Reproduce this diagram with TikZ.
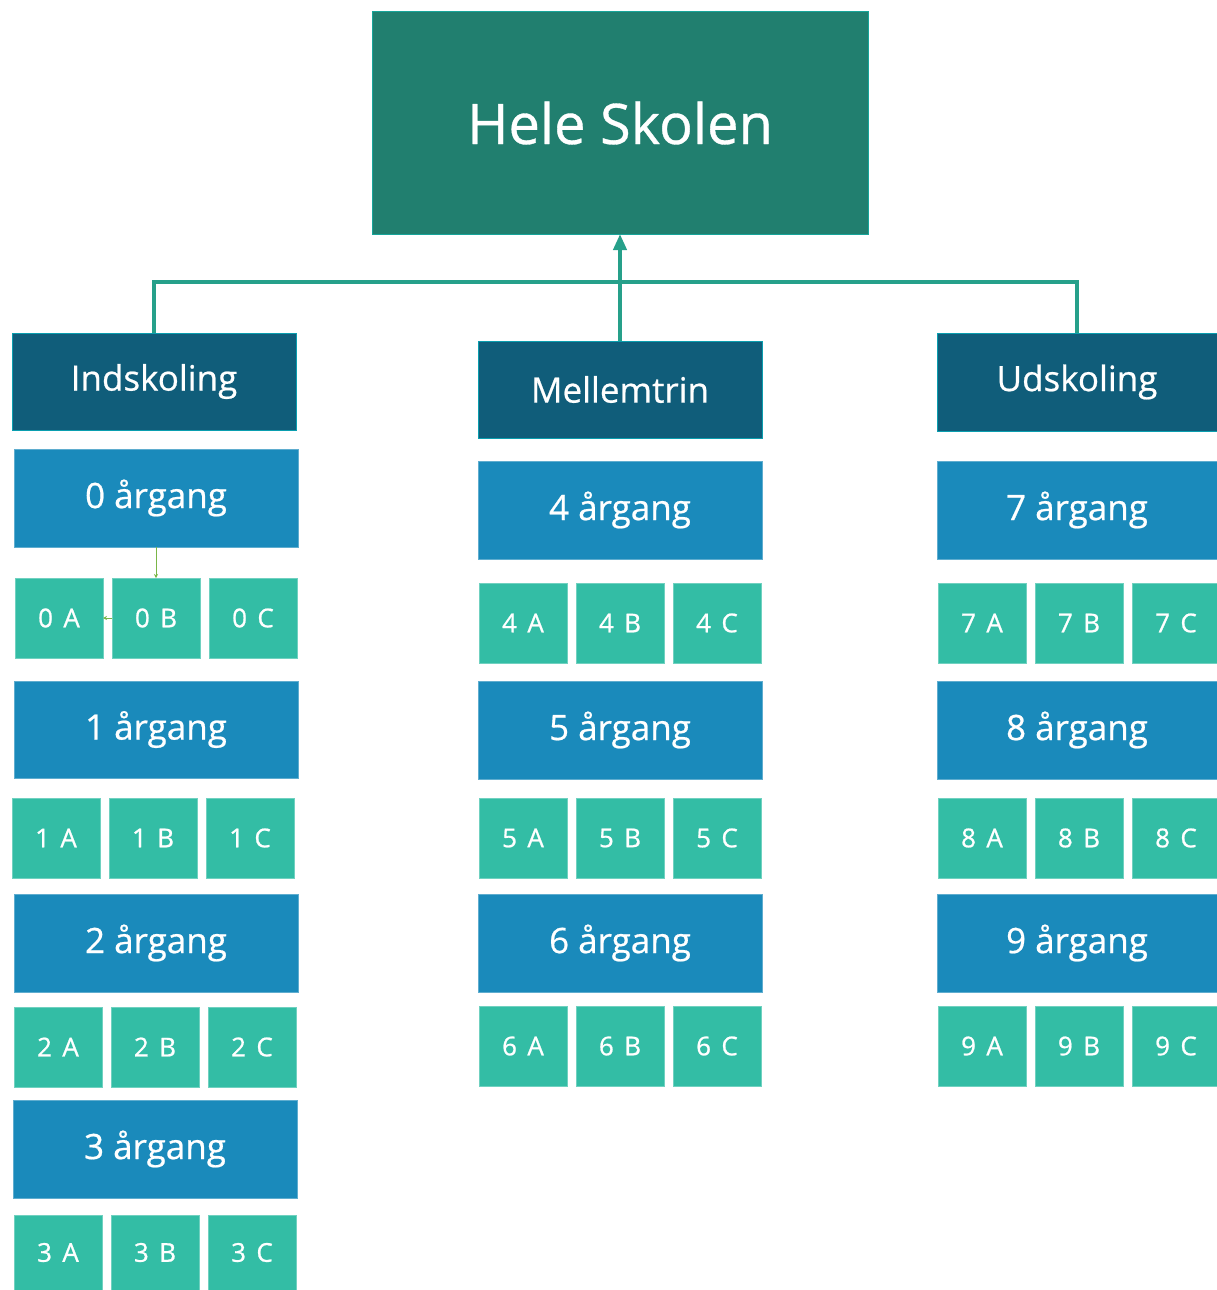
\documentclass[tikz,border=0pt]{standalone}
\usepackage{fontspec}
\setmainfont{Open Sans}[FakeBold=0.6]
\newfontfamily\clsfont{Open Sans}[LetterSpace=14,FakeBold=0.8]
\usetikzlibrary{arrows.meta}
\definecolor{topc}{HTML}{217F6F}
\definecolor{stagec}{HTML}{105D7A}
\definecolor{gradec}{HTML}{1A8ABB}
\definecolor{clsc}{HTML}{33BDA5}
\definecolor{connc}{HTML}{26A08A}
\definecolor{smallc}{HTML}{7AB648}
\tikzset{
  boxbase/.style={inner sep=0pt, outer sep=0pt, text=white, line width=1pt},
  topbox/.style={boxbase, fill=topc, draw=topc!70!cyan, font=\fontsize{56}{62}\selectfont},
  stagebox/.style={boxbase, fill=stagec, draw=stagec!60!cyan, font=\fontsize{35}{40}\selectfont},
  gradebox/.style={boxbase, fill=gradec, draw=gradec!70!white, font=\fontsize{35}{40}\selectfont},
  clsbox/.style={boxbase, fill=clsc, draw=clsc!70!white, font=\clsfont\fontsize{26}{28}\selectfont},
  conn/.style={draw=connc, line width=4pt},
  smallarrow/.style={draw=smallc, line width=0.8pt, -{Stealth[length=4pt,width=4pt]}}
}
\newcommand\bx[7]{\node[#6, minimum width={((#4)-(#2))*1pt}, minimum height={((#5)-(#3))*1pt}] (#1) at ({((#2)+(#4))/2},{((#3)+(#5))/2}) {#7};}
\newcommand\clsrow[5]{%
  \bx{#1a}{#2}{#4}{#2+88}{#5}{clsbox}{#3 A}
  \bx{#1b}{#2+97}{#4}{#2+185}{#5}{clsbox}{#3 B}
  \bx{#1c}{#2+194}{#4}{#2+282}{#5}{clsbox}{#3 C}}
\begin{document}
\begin{tikzpicture}[x=1pt,y=-1pt]
\useasboundingbox (0,0) rectangle (1217,1290);
% top
\bx{top}{372}{12}{868}{234}{topbox}{Hele Skolen}
% stages
\bx{ind}{12}{333}{296}{430}{stagebox}{Indskoling}
\bx{mel}{478}{341}{762}{438}{stagebox}{Mellemtrin}
\bx{uds}{937}{333}{1217}{431}{stagebox}{Udskoling}
% left column
\bx{g0}{14}{449}{298}{547}{gradebox}{0 årgang}
\clsrow{c0}{15}{0}{578}{658}
\bx{g1}{14}{681}{298}{778}{gradebox}{1 årgang}
\clsrow{c1}{12}{1}{798}{878}
\bx{g2}{14}{894}{298}{992}{gradebox}{2 årgang}
\clsrow{c2}{14}{2}{1007}{1087}
\bx{g3}{13}{1100}{297}{1198}{gradebox}{3 årgang}
\clsrow{c3}{14}{3}{1215}{1290}
% middle column
\bx{g4}{478}{461}{762}{559}{gradebox}{4 årgang}
\clsrow{c4}{479}{4}{583}{663}
\bx{g5}{478}{681}{762}{779}{gradebox}{5 årgang}
\clsrow{c5}{479}{5}{798}{878}
\bx{g6}{478}{894}{762}{992}{gradebox}{6 årgang}
\clsrow{c6}{479}{6}{1006}{1086}
% right column
\bx{g7}{937}{461}{1217}{559}{gradebox}{7 årgang}
\clsrow{c7}{938}{7}{583}{663}
\bx{g8}{937}{681}{1217}{779}{gradebox}{8 årgang}
\clsrow{c8}{938}{8}{798}{878}
\bx{g9}{937}{894}{1217}{992}{gradebox}{9 årgang}
\clsrow{c9}{938}{9}{1006}{1086}
% connectors
\coordinate (bus) at (620,282);
\draw[conn] (ind.north) -- (ind.north |- bus) -- (uds.north |- bus) -- (uds.north);
\draw[conn, -{Triangle[length=16pt,width=13pt]}] (mel.north) -- (top.south);
% small green arrows
\draw[smallarrow] (c0b.north |- g0.south) -- (c0b.north);
\draw[smallarrow] (c0b.west) -- (c0a.east);
\end{tikzpicture}
\end{document}
